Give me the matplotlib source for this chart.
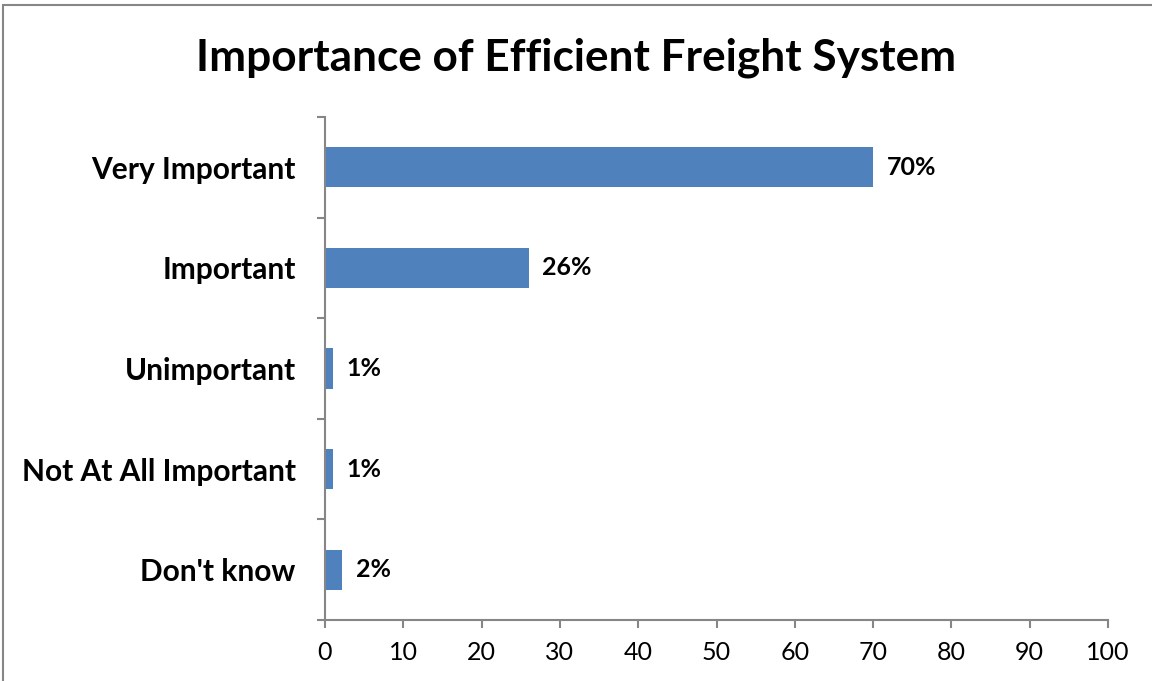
import numpy as np
import matplotlib.pyplot as plt
from matplotlib.patches import Rectangle

plt.rcParams['font.family'] = ['Lato', 'DejaVu Sans']

# Datos
categorias = ["Very Important", "Important", "Unimportant", "Not At All Important", "Don't know"]
valores = [70, 26, 1, 1, 2.2]
etiquetas = ["70%", "26%", "1%", "1%", "2%"]
ticks_x = [0, 10, 20, 30, 40, 50, 60, 70, 80, 90, 100]

COLOR_BARRA = '#4F81BD'
COLOR_EJE = '#868686'

fig = plt.figure(figsize=(11.52, 6.81), dpi=100)

# Marco exterior del gráfico
fig.patches.append(Rectangle((3 / 1152, -0.05), 1.2, 1 - 5 / 681 + 0.05,
                             transform=fig.transFigure, fill=False,
                             edgecolor=COLOR_EJE, linewidth=1.5))

ax = fig.add_axes([325 / 1152, 61 / 681, 783 / 1152, 503 / 681])

y = np.arange(len(categorias))
ax.barh(y, valores, height=0.4, color=COLOR_BARRA)

ax.set_xlim(0, 100)
ax.set_ylim(len(categorias) - 0.5, -0.5)
ax.set_xticks(ticks_x)
ax.set_xticklabels([str(t) for t in ticks_x], fontsize=18)
ax.set_yticks(y)
ax.set_yticklabels(categorias, fontsize=21.5, fontweight='bold')
ax.set_yticks(np.arange(-0.5, len(categorias)), minor=True)
ax.tick_params(axis='y', which='major', length=0, pad=21)
ax.tick_params(axis='y', which='minor', length=6, color=COLOR_EJE, width=1.5)
ax.tick_params(axis='x', length=6, color=COLOR_EJE, width=1.5, pad=9)

for lado in ['top', 'right']:
    ax.spines[lado].set_visible(False)
for lado in ['left', 'bottom']:
    ax.spines[lado].set_color(COLOR_EJE)
    ax.spines[lado].set_linewidth(1.5)

for yi, v, et in zip(y, valores, etiquetas):
    ax.annotate(et, (v, yi), xytext=(10, 0), textcoords='offset points',
                va='center', ha='left', fontsize=18, fontweight='bold')

fig.text(0.5, 1 - 58 / 681, 'Importance of Efficient Freight System',
         ha='center', va='center', fontsize=31.8, fontweight='bold')

fig.savefig('out.png', dpi=100)
